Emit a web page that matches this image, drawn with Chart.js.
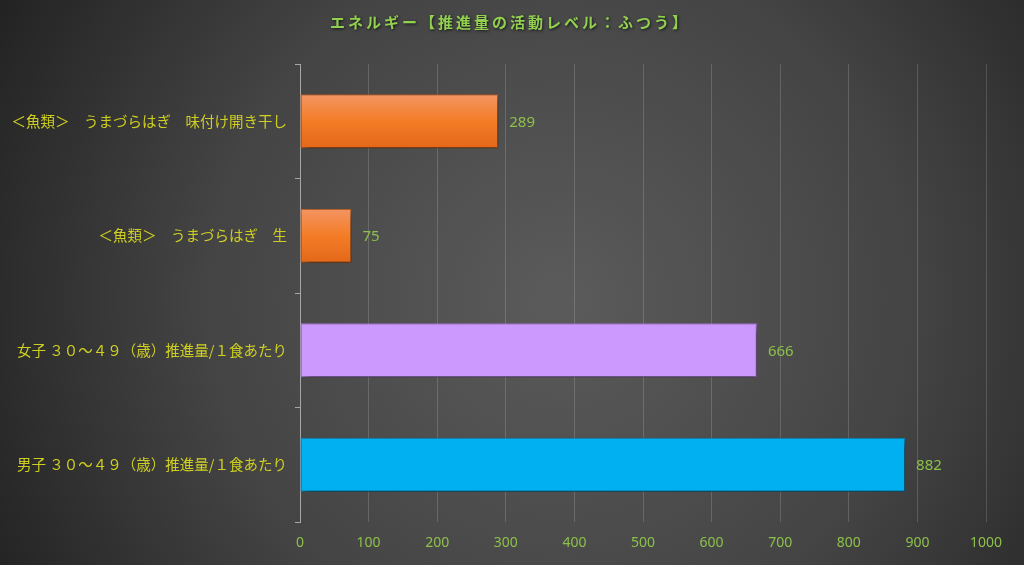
<!DOCTYPE html>
<html>
<head>
<meta charset="utf-8">
<script src="https://cdn.jsdelivr.net/npm/chart.js@4"></script>
<style>
  html, body { margin: 0; padding: 0; background: #3a3a3a; }
  #wrap { width: 1024px; height: 565px; }
</style>
</head>
<body>
<div id="wrap"><canvas id="myChart" width="1024" height="565"></canvas></div>
<script>
// data
const categories = [
    '＜魚類＞　うまづらはぎ　味付け開き干し',
    '＜魚類＞　うまづらはぎ　生',
    '女子 ３０～４９（歳）推進量/１食あたり',
    '男子 ３０～４９（歳）推進量/１食あたり'
];
const values = [289, 75, 666, 882];
const barColors = ['orange', 'orange', '#CC99FF', '#00B0F0'];
const borderColors = ['#C55A11', '#C55A11', '#B07FE0', '#0B8FC2'];
const titleText = 'エネルギー【推進量の活動レベル：ふつう】';
const xMin = 0, xMax = 1000, xStep = 100;
const barPct = 0.47;

const jpFont = "'Noto Sans CJK JP', 'Noto Sans', sans-serif";

// radial background
const bgPlugin = {
    id: 'bg',
    beforeDraw(chart) {
        const ctx = chart.ctx;
        const w = chart.width, h = chart.height;
        const g = ctx.createRadialGradient(560, 300, 0, 560, 300, 640);
        g.addColorStop(0, '#5b5b5b');
        g.addColorStop(0.55, '#444444');
        g.addColorStop(1, '#222222');
        ctx.save();
        ctx.fillStyle = g;
        ctx.fillRect(0, 0, w, h);
        ctx.restore();
    }
};

// title with a soft shadow
const titlePlugin = {
    id: 'titleShadow',
    afterDraw(chart) {
        const ctx = chart.ctx;
        ctx.save();
        ctx.font = "bold 15px " + jpFont;
        ctx.letterSpacing = '3px';
        ctx.textAlign = 'center';
        ctx.textBaseline = 'middle';
        ctx.shadowColor = 'rgba(0,0,0,0.7)';
        ctx.shadowBlur = 3;
        ctx.shadowOffsetX = 1;
        ctx.shadowOffsetY = 1;
        ctx.fillStyle = '#92D050';
        ctx.fillText(titleText, 510, 22);
        ctx.restore();
    }
};

// drop shadow under bars
const shadowPlugin = {
    id: 'barShadow',
    beforeDatasetsDraw(chart) {
        const ctx = chart.ctx;
        ctx.save();
        ctx.shadowColor = 'rgba(0,0,0,0.6)';
        ctx.shadowBlur = 8;
        ctx.shadowOffsetX = 3;
        ctx.shadowOffsetY = 4;
    },
    afterDatasetsDraw(chart) {
        chart.ctx.restore();
    }
};

// value labels at bar ends
const valuePlugin = {
    id: 'values',
    afterDraw(chart) {
        const ctx = chart.ctx;
        const meta = chart.getDatasetMeta(0);
        ctx.save();
        ctx.font = "15px 'Noto Sans', sans-serif";
        ctx.fillStyle = '#8DC04A';
        ctx.textAlign = 'left';
        ctx.textBaseline = 'middle';
        meta.data.forEach(function (bar, i) {
            ctx.fillText(values[i], bar.x + 11, bar.y + 1);
        });
        ctx.restore();
    }
};

function barFill(context) {
    const i = context.dataIndex;
    if (barColors[i] !== 'orange') return barColors[i];
    const chart = context.chart;
    const yScale = chart.scales.y;
    if (!chart.chartArea || !yScale) return '#F07A22';
    const center = yScale.getPixelForValue(i);
    const half = (chart.chartArea.height / categories.length) * barPct / 2;
    const g = chart.ctx.createLinearGradient(0, center - half, 0, center + half);
    g.addColorStop(0, '#F39563');
    g.addColorStop(0.5, '#F47C26');
    g.addColorStop(1, '#E3681A');
    return g;
}

const ctx = document.getElementById('myChart').getContext('2d');
const myChart = new Chart(ctx, {
    type: 'bar',
    data: {
        labels: categories,
        datasets: [{
            data: values,
            backgroundColor: barFill,
            borderColor: borderColors,
            borderWidth: 1,
            borderSkipped: false,
            categoryPercentage: 1,
            barPercentage: barPct
        }]
    },
    options: {
        indexAxis: 'y',
        responsive: false,
        animation: false,
        layout: { padding: { top: 64, right: 38, left: 0, bottom: 0 } },
        plugins: {
            legend: { display: false },
            title: { display: false },
            tooltip: { enabled: false }
        },
        scales: {
            x: {
                min: xMin,
                max: xMax,
                ticks: {
                    stepSize: xStep,
                    color: '#8DC04A',
                    padding: 13,
                    font: { family: "'Liberation Sans Narrow', 'Noto Sans', sans-serif", size: 14 },
                    callback: function (value) { return value; }
                },
                grid: { color: 'rgba(255,255,255,0.16)', drawTicks: false },
                border: { display: false },
                afterFit(scale) { scale.height = 43; }
            },
            y: {
                ticks: {
                    color: '#CFCF22',
                    padding: 8,
                    font: { family: jpFont, size: 14.5 }
                },
                grid: {
                    drawOnChartArea: false,
                    drawTicks: true,
                    tickLength: 5,
                    color: '#A6A6A6'
                },
                border: { display: true, color: '#A6A6A6', width: 1 },
                afterFit(scale) { scale.width = 300; }
            }
        }
    },
    plugins: [bgPlugin, shadowPlugin, valuePlugin, titlePlugin]
});
</script>
</body>
</html>
